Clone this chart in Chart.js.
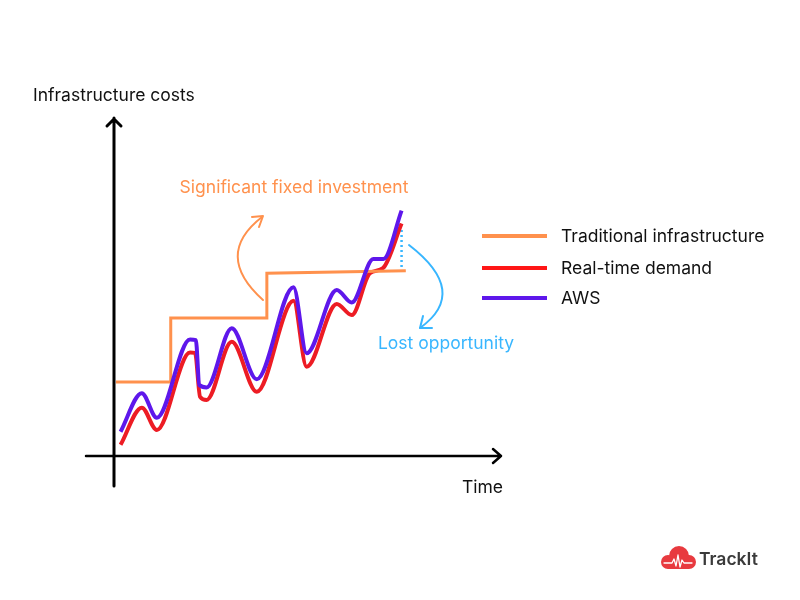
<!DOCTYPE html>
<html>
<head>
<meta charset="utf-8">
<script src="https://cdn.jsdelivr.net/npm/chart.js@4.4.0/dist/chart.umd.min.js"></script>
<style>
  html, body { margin: 0; padding: 0; background: #ffffff; }
  #wrap { width: 800px; height: 600px; position: relative; }
</style>
</head>
<body>
<div id="wrap"><canvas id="c"></canvas></div>
<script>
// ---- Data (time 0..100, cost 0..100, arbitrary units) ----
const seriesLabels = ['Traditional infrastructure', 'Real-time demand', 'AWS'];
const seriesColors = ['#ff914d', '#ed1c24', '#5e17eb'];

const traditionalTime = [0.5, 14.7, 14.7, 39.6, 39.6, 75.6];
const traditionalCost = [21.9, 21.9, 40.8, 40.8, 54.1, 54.8];

const demandTime = [1.7, 7.2, 11.1, 19.7, 21.0, 22.3, 24.0, 30.5, 37.0, 46.5, 49.9, 57.7, 61.6, 66.3, 69.7, 74.5];
const demandCost = [3.3, 14.3, 7.7, 30.6, 30.5, 17.5, 16.6, 33.8, 19.0, 45.9, 26.4, 45.0, 41.7, 54.1, 55.6, 68.8];

const awsTime = [1.7, 7.2, 11.1, 19.7, 21.2, 22.1, 24.0, 30.5, 37.0, 46.5, 49.9, 57.7, 61.6, 67.2, 69.8, 74.5];
const awsCost = [7.2, 18.6, 11.3, 34.5, 34.3, 21.0, 20.3, 37.8, 22.7, 49.9, 30.4, 49.1, 45.4, 58.3, 58.3, 72.6];

const gapTime = [74.5, 74.5];
const gapCost = [66.9, 54.8];

const axisTitles = { y: 'Infrastructure costs', x: 'Time' };
const notes = { fixed: 'Significant fixed investment', lost: 'Lost opportunity' };
const brand = 'TrackIt';

const toPts = (xs, ys) => xs.map((x, i) => ({ x: x, y: ys[i] }));

const FONT = 'Inter, "Open Sans", sans-serif';

const decor = {
  id: 'decor',
  afterDatasetsDraw(chart) {
    const ctx = chart.ctx;
    const a = chart.chartArea;
    ctx.save();
    // Axes
    ctx.strokeStyle = '#000';
    ctx.lineCap = 'round';
    ctx.lineJoin = 'round';
    ctx.lineWidth = 3;
    ctx.beginPath();
    ctx.moveTo(a.left, a.bottom + 30);
    ctx.lineTo(a.left, a.top);
    ctx.moveTo(a.left - 7, a.top + 8);
    ctx.lineTo(a.left, a.top + 1);
    ctx.lineTo(a.left + 7, a.top + 8);
    ctx.stroke();
    ctx.lineWidth = 2.5;
    ctx.beginPath();
    ctx.moveTo(a.left - 28, a.bottom);
    ctx.lineTo(a.right + 1, a.bottom);
    ctx.moveTo(a.right - 7, a.bottom - 7);
    ctx.lineTo(a.right + 1, a.bottom);
    ctx.lineTo(a.right - 7, a.bottom + 7);
    ctx.stroke();

    // Axis titles
    ctx.fillStyle = '#111';
    ctx.font = '17.5px ' + FONT;
    ctx.textBaseline = 'middle';
    ctx.textAlign = 'left';
    ctx.fillText(axisTitles.y, 33, 96);
    ctx.fillText(axisTitles.x, 462, 488);

    // Annotation: significant fixed investment
    ctx.fillStyle = '#ff914d';
    ctx.textAlign = 'center';
    ctx.fillText(notes.fixed, 294, 188);
    ctx.strokeStyle = '#ff914d';
    ctx.lineWidth = 2;
    ctx.beginPath();
    ctx.moveTo(263, 300);
    ctx.quadraticCurveTo(213, 255, 262, 217);
    ctx.stroke();
    ctx.beginPath();
    ctx.moveTo(252, 217);
    ctx.lineTo(263, 216);
    ctx.lineTo(259, 227);
    ctx.stroke();

    // Annotation: lost opportunity
    ctx.fillStyle = '#38b6ff';
    ctx.fillText(notes.lost, 446, 344);
    ctx.strokeStyle = '#38b6ff';
    ctx.beginPath();
    ctx.moveTo(409, 245);
    ctx.quadraticCurveTo(470, 292, 420, 328);
    ctx.stroke();
    ctx.beginPath();
    ctx.moveTo(423, 316);
    ctx.lineTo(420, 328);
    ctx.lineTo(432, 328);
    ctx.stroke();

    // Legend
    ctx.textAlign = 'left';
    const ly = [236, 268, 298];
    chart.data.datasets.slice(0, 3).forEach((ds, i) => {
      ctx.strokeStyle = ds.legendColor || ds.borderColor;
      ctx.lineWidth = 4;
      ctx.lineCap = 'butt';
      ctx.beginPath();
      ctx.moveTo(482, ly[i]);
      ctx.lineTo(547, ly[i]);
      ctx.stroke();
      ctx.fillStyle = '#111';
      ctx.fillText(ds.label, 561, ly[i] + 1);
    });

    // Logo
    ctx.fillStyle = '#e83a3f';
    ctx.beginPath();
    ctx.arc(668, 562, 7, 0, Math.PI * 2);
    ctx.arc(679, 556, 10, 0, Math.PI * 2);
    ctx.arc(689, 562, 7, 0, Math.PI * 2);
    ctx.fill();
    ctx.fillRect(668, 560, 21, 9);
    ctx.strokeStyle = '#fff';
    ctx.lineWidth = 1.3;
    ctx.lineCap = 'round';
    ctx.beginPath();
    ctx.moveTo(664, 563);
    ctx.lineTo(672, 563);
    ctx.lineTo(674, 559);
    ctx.lineTo(676, 566);
    ctx.lineTo(678, 555);
    ctx.lineTo(680, 567);
    ctx.lineTo(682, 560);
    ctx.lineTo(684, 563);
    ctx.lineTo(692, 563);
    ctx.stroke();
    ctx.fillStyle = '#3a3a3a';
    ctx.font = '600 17.5px ' + FONT;
    ctx.textBaseline = 'middle';
    ctx.fillText(brand, 699, 560);
    ctx.restore();
  }
};

new Chart(document.getElementById('c'), {
  type: 'line',
  data: {
    datasets: [
      {
        label: seriesLabels[0],
        data: toPts(traditionalTime, traditionalCost),
        borderColor: seriesColors[0],
        borderWidth: 3,
        tension: 0,
        pointRadius: 0,
        order: 1
      },
      {
        label: seriesLabels[1],
        data: toPts(demandTime, demandCost),
        borderColor: seriesColors[1],
        legendColor: '#ff1616',
        borderWidth: 4,
        cubicInterpolationMode: 'monotone',
        pointRadius: 0,
        order: 2
      },
      {
        label: seriesLabels[2],
        data: toPts(awsTime, awsCost),
        borderColor: seriesColors[2],
        borderWidth: 4,
        cubicInterpolationMode: 'monotone',
        pointRadius: 0,
        order: 0
      },
      {
        label: 'gap',
        data: toPts(gapTime, gapCost),
        borderColor: '#38b6ff',
        borderWidth: 2.5,
        borderDash: [2, 3],
        pointRadius: 0,
        order: 3
      }
    ]
  },
  options: {
    responsive: true,
    maintainAspectRatio: false,
    animation: false,
    clip: false,
    layout: { padding: { left: 114, right: 300, top: 118, bottom: 144 } },
    plugins: { legend: { display: false }, tooltip: { enabled: false } },
    scales: {
      x: { type: 'linear', min: 0, max: 100, display: false },
      y: { type: 'linear', min: 0, max: 100, display: false }
    }
  },
  plugins: [decor]
});
</script>
</body>
</html>
